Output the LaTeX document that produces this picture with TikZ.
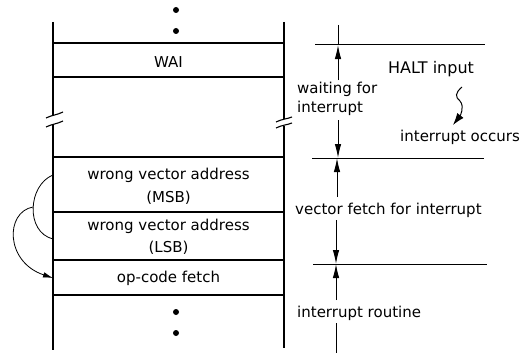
\documentclass[tikz,border=0pt]{standalone}
\usepackage{fontspec}
\setmainfont{DejaVu Sans}
\usetikzlibrary{arrows.meta}
\begin{document}
\begin{tikzpicture}[x=1pt,y=-1pt,
  col/.style={line width=1.5pt},
  sep/.style={line width=1.1pt},
  dim/.style={line width=1pt},
  dimarrow/.style={dim,-{Latex[length=14pt,width=6.5pt]}},
  lbl/.style={font=\fontsize{15}{18}\selectfont, inner sep=0pt, text height=11pt, text depth=3pt},
  dot/.style={circle,fill,inner sep=0pt,minimum size=6pt}]
\useasboundingbox (0,0) rectangle (524,353);
% column verticals with break
\coordinate (LT) at (53,22);
\coordinate (LB) at (53,350);
\coordinate (RT) at (284,22);
\coordinate (RB) at (284,348);
\draw[col] (LT) -- (53,115);
\draw[col] (53,124) -- (LB);
\draw[col] (RT) -- (284,119);
\draw[col] (284,126) -- (RB);
% break marks
\draw[sep] (46,118) .. controls (52,115) and (57,115) .. (63,112);
\draw[sep] (46,127) .. controls (52,124) and (57,124) .. (63,121);
\draw[sep] (276,122) .. controls (282,119) and (287,119) .. (292,117);
\draw[sep] (276,128) .. controls (282,125) and (287,125) .. (292,123);
% column separators
\foreach \y in {43,77,157,212,260,295} \draw[sep] (53,\y) -- (284,\y);
% dots
\node[dot] (d1) at (176,10) {};
\node[dot] (d2) at (176,31) {};
\node[dot] (d3) at (176,312) {};
\node[dot] (d4) at (176,333) {};
% column texts
\node[lbl] (wai) at (168.5,63) {WAI};
\node[lbl] (msb1) at (168.5,175) {wrong vector address};
\node[lbl] (msb2) at (168.5,198) {(MSB)};
\node[lbl] (lsb1) at (168.5,226) {wrong vector address};
\node[lbl] (lsb2) at (168.5,248) {(LSB)};
\node[lbl] (opc) at (168.5,278) {op-code fetch};
% left arcs
\coordinate (a1s) at (53,175);
\coordinate (a1e) at (53,239);
\coordinate (a2s) at (33,207);
\coordinate (a2e) at (53,278);
\draw[line width=0.8pt] (a1s) .. controls (28,185) and (25,232) .. (a1e);
\draw[line width=0.8pt,-{Latex[length=10pt,width=5.5pt]}] (a2s) .. controls (5,212) and (5,262) .. (a2e);
% right side lines
\draw[dim] (315,45) -- (485,45);
\draw[dim] (312,158) -- (484,158);
\draw[dim] (313,264) -- (487,264);
% dimension arrows
\draw[dim] (338,25) -- (338,45);
\draw[dimarrow] (338,80) -- (338,45);
\draw[dimarrow] (338,120) -- (338,158);
\draw[dimarrow] (337,197) -- (337,158);
\draw[dimarrow] (336,220) -- (336,264);
\draw[dimarrow] (336,300) -- (336,264);
\draw[dim] (336,323) -- (336,353);
% right texts
\node[lbl,anchor=west] (wait1) at (297,89) {waiting for};
\node[lbl,anchor=west] (wait2) at (297,108) {interrupt};
\node[lbl,anchor=west,font=\fontsize{16}{18}\selectfont] (halt) at (388,70) {HALT input};
\node[lbl,anchor=west] (occ) at (400,137) {interrupt occurs};
\node[lbl,anchor=west] (vf) at (295,210) {vector fetch for interrupt};
\node[lbl,anchor=west] (ir) at (297,313) {interrupt routine};
% squiggle
\draw[dim,-{Latex[length=12pt,width=8pt]}] (462,87) .. controls (455,93) and (455,97) .. (460,101) .. controls (465,107) and (460,116) .. (453,125);
\end{tikzpicture}
\end{document}
